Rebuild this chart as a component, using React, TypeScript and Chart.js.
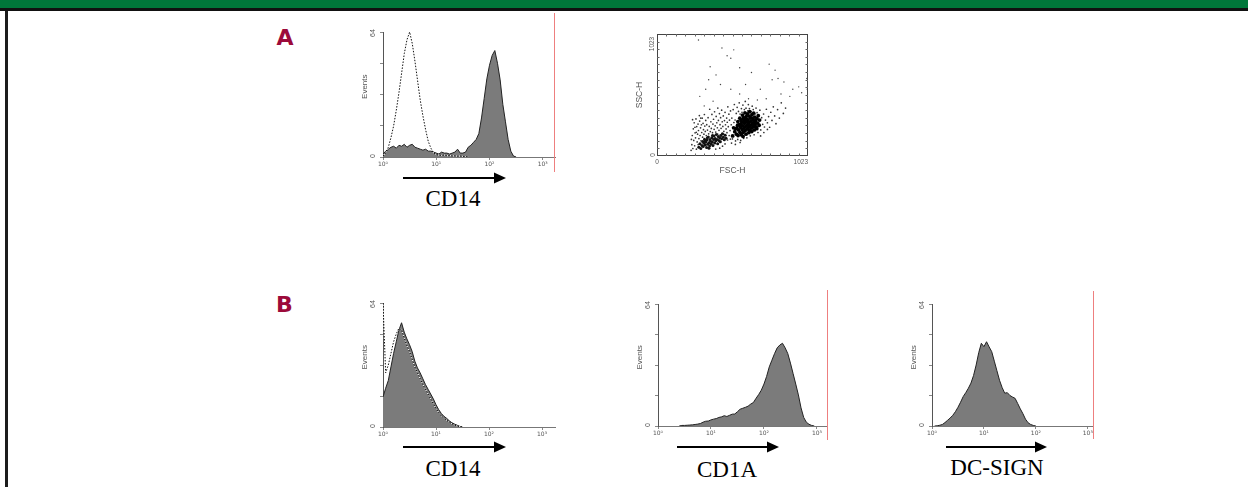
import React, { useEffect, useRef } from "react";
import { Chart, registerables } from "chart.js";
Chart.register(...registerables);

// ---------- DATA ----------
const decades = [
  0, 0.05, 0.1, 0.15, 0.2, 0.25, 0.3, 0.35, 0.4, 0.45, 0.5, 0.55, 0.6, 0.65, 0.7, 0.75,
  0.8, 0.85, 0.9, 0.95, 1.0, 1.05, 1.1, 1.15, 1.2, 1.25, 1.3, 1.35, 1.4, 1.45, 1.5, 1.55,
  1.6, 1.65, 1.7, 1.75, 1.8, 1.85, 1.9, 1.95, 2.0, 2.05, 2.1, 2.15, 2.2, 2.25, 2.3, 2.35,
  2.4, 2.45, 2.5, 2.55, 2.6, 2.65, 2.7, 2.75, 2.8, 2.85, 2.9, 2.95, 3.0, 3.05, 3.1, 3.15,
  3.2, 3.25,
];
const decadeTicks = [0, 1, 2, 3];
const decadeLabels = ["10⁰", "10¹", "10²", "10³"];
const eventTicks = [0, 16, 32, 48, 64];

const N = null;
// A: CD14 stained (filled) and isotype (dotted)
const a1Stained = [
  1.5, 3, 4, 5, 5.5, 4.5, 6, 5.5, 6.5, 5, 6, 6.5, 5, 4.5, 4, 3.5,
  4, 3, 3, 2.5, 2, 1.5, 2.5, 2, 2, 1.5, 2, 2.5, 4, 2, 2, 2.5,
  5, 6, 7.5, 9, 12, 20, 30, 40, 47, 52, 54.5, 48, 39.5, 27, 18, 9,
  3, 0.5, 0, N, N, N, N, N, N, N, N, N, N, N, N, N, N, N,
];
const a1Isotype = [
  0.5, 2, 5, 10, 16, 24, 33, 43, 53, 60, 64, 58, 49, 39, 29, 21,
  14, 8, 4.5, 2, 1.2, 1, 0.8, 1, 0.6, 0.8, 0.5, 0.6, 0.4, 0.5, 0.3, 0.2,
  0, N, N, N, N, N, N, N, N, N, N, N, N, N, N, N,
  N, N, N, N, N, N, N, N, N, N, N, N, N, N, N, N, N, N,
];
// B: CD14 stained and isotype
const b1Stained = [
  15.5, 20, 24, 31, 38, 44, 50, 53.8, 49, 45.5, 42.5, 39, 34, 30.5, 28, 25,
  22, 19.5, 17, 14.5, 11.5, 9, 7, 5.5, 4.5, 3.2, 2.2, 1.5, 0.9, 0.3, 0, N,
  N, N, N, N, N, N, N, N, N, N, N, N, N, N, N, N,
  N, N, N, N, N, N, N, N, N, N, N, N, N, N, N, N, N, N,
];
const b1Isotype = [
  64, 28, 32, 38, 44, 48, 51, 50, 46, 42, 39, 35, 31, 28, 25, 22,
  19.5, 17, 14.5, 12, 9.5, 7.5, 5.8, 4.5, 3.5, 2.5, 1.7, 1, 0.5, 0.2, 0, N,
  N, N, N, N, N, N, N, N, N, N, N, N, N, N, N, N,
  N, N, N, N, N, N, N, N, N, N, N, N, N, N, N, N, N, N,
];
// B: CD1A
const b2Stained = [
  N, N, N, N, N, N, N, N, 0, 0.3, 0.3, 0.4, 0.5, 0.6, 0.8, 1,
  1.3, 2, 2.5, 2.6, 3.2, 3.6, 3.9, 4.5, 4.8, 5.4, 5.0, 5.6, 6.2, 6.3, 7.5, 8.8,
  9.3, 9.8, 10.4, 11.5, 12.3, 14.5, 16.5, 18.8, 22, 26, 31, 34.5, 38, 41, 42.5, 43.4,
  41, 38, 33, 27.5, 22, 16.3, 9.5, 4.5, 2, 0.9, 0.3, 0, N, N, N, N, N, N,
];
// B: DC-SIGN
const b3Stained = [
  N, 0, 0.1, 0.4, 0.8, 1.8, 3, 4.2, 5.6, 7.5, 9.8, 12.5, 15.4, 17.5, 19.8, 22.5,
  26.5, 32, 38.5, 43.4, 41.6, 44.2, 41.5, 39, 34, 29, 24, 20.2, 17.2, 17.5, 16, 15.2,
  14.5, 11.8, 9, 6.5, 3.6, 1.7, 0.8, 0.3, 0, N, N, N, N, N, N, N,
  N, N, N, N, N, N, N, N, N, N, N, N, N, N, N, N, N, N,
];

// Scatter FSC-H / SSC-H
const scatterCore = [
  [512, 168], [527, 204], [538, 183], [541, 236], [549, 171], [553, 219], [558, 262], [562, 197], [566, 241], [571, 178],
  [574, 286], [577, 222], [581, 253], [584, 199], [588, 307], [591, 236], [593, 274], [597, 212], [601, 249], [604, 331],
  [607, 288], [611, 226], [614, 263], [617, 302], [621, 241], [624, 279], [627, 214], [631, 318], [634, 257], [637, 292],
  [641, 233], [644, 347], [647, 271], [651, 305], [654, 248], [658, 284], [662, 326], [665, 262], [669, 298], [673, 241],
  [677, 315], [682, 276], [686, 338], [546, 258], [533, 228], [519, 236], [561, 317], [579, 343], [596, 362], [612, 352],
  [628, 371], [583, 164], [603, 183], [622, 196], [642, 205], [659, 219], [676, 229], [692, 258], [695, 301], [548, 289],
  [569, 302], [586, 321], [570, 268], [589, 286], [606, 308], [625, 335], [640, 320], [618, 283], [600, 292], [655, 360],
];
const scatterCluster = [
  [283, 74], [291, 102], [297, 63], [304, 88], [309, 121], [313, 79], [318, 106], [322, 141], [327, 93], [331, 117],
  [336, 71], [339, 134], [344, 98], [348, 159], [352, 112], [356, 84], [359, 139], [363, 124], [367, 101], [371, 153],
  [375, 117], [379, 88], [383, 138], [386, 168], [391, 110], [394, 146], [398, 127], [402, 181], [407, 139], [411, 103],
  [415, 163], [419, 131], [424, 152], [429, 119], [433, 171], [438, 144], [443, 186], [449, 158], [456, 137], [462, 174],
  [468, 149], [341, 152], [325, 128], [376, 172], [352, 66],
];
const scatterHaze = [
  [231, 48], [236, 95], [239, 172], [243, 63], [246, 228], [249, 131], [252, 279], [255, 86], [258, 194], [261, 152],
  [264, 311], [267, 57], [269, 247], [272, 118], [275, 183], [278, 268], [281, 214], [284, 146], [287, 339], [289, 293],
  [292, 172], [295, 236], [298, 128], [301, 262], [303, 197], [306, 317], [309, 158], [312, 274], [315, 221], [318, 183],
  [321, 348], [324, 251], [327, 206], [330, 298], [233, 139], [241, 305], [257, 241], [266, 199], [279, 96], [296, 318],
  [334, 172], [337, 263], [342, 217], [346, 321], [350, 186], [354, 248], [357, 392], [361, 205], [365, 287], [368, 231],
  [372, 349], [376, 196], [379, 268], [383, 308], [387, 224], [390, 371], [394, 253], [398, 201], [401, 332], [405, 279],
  [409, 237], [412, 402], [416, 298], [420, 215], [423, 356], [427, 263], [431, 321], [434, 232], [438, 384], [442, 287],
  [446, 248], [449, 336], [453, 207], [457, 297], [461, 366], [464, 262], [468, 227], [472, 318], [476, 283], [480, 412],
  [483, 246], [487, 351], [491, 301], [495, 213], [498, 378], [452, 183], [428, 176], [474, 196], [489, 172], [411, 183],
  [503, 262], [507, 318], [511, 143], [516, 389], [521, 281], [524, 432], [529, 302], [532, 126], [537, 357], [543, 408],
  [547, 139], [552, 374], [557, 446], [563, 352], [567, 131], [572, 398], [576, 367], [582, 427], [587, 148], [592, 389],
  [598, 458], [603, 401], [609, 152], [615, 378], [619, 431], [626, 398], [632, 169], [638, 372], [645, 418], [652, 389],
  [658, 178], [664, 353], [671, 402], [678, 363], [684, 197], [691, 338], [697, 384], [703, 219], [709, 321], [716, 266],
  [722, 352], [728, 243], [735, 301], [741, 392], [748, 279], [756, 331], [763, 241], [771, 367], [779, 298], [788, 412],
  [797, 336], [806, 271], [817, 389], [829, 318], [842, 446], [856, 357], [871, 402], [702, 168], [724, 197], [748, 223],
  [505, 108], [531, 97], [563, 113], [497, 142], [519, 164], [478, 134], [461, 101], [444, 82], [425, 66], [398, 58],
];
const scatterSparse = [
  [281, 973], [360, 749], [440, 905], [475, 840], [520, 890], [500, 820], [560, 740], [640, 700], [760, 770], [800, 720],
  [820, 650], [780, 640], [860, 620], [900, 500], [920, 560], [960, 580], [980, 530], [330, 560], [290, 500], [350, 640],
  [400, 680], [430, 600], [600, 600], [700, 560], [740, 480], [680, 470], [560, 520], [500, 560], [380, 460], [320, 420],
  [620, 480], [840, 520], [1015, 650], [1018, 560],
  [290, 1020], [330, 1021], [360, 1019], [400, 1022], [430, 1020], [460, 1021], [300, 1018], [380, 1020], [520, 1020],
];

// ---------- HELPERS ----------
function rotText(ctx: CanvasRenderingContext2D, text: string, x: number, y: number, font: string) {
  ctx.save();
  ctx.translate(x, y);
  ctx.rotate(-Math.PI / 2);
  ctx.font = font;
  ctx.textAlign = "center";
  ctx.textBaseline = "middle";
  ctx.fillText(text, 0, 0);
  ctx.restore();
}

const histLabels = {
  id: "histLabels",
  afterDraw(chart: any) {
    const { ctx } = chart;
    const y = chart.scales.y;
    const ax = y.right;
    ctx.save();
    ctx.fillStyle = "#555";
    rotText(ctx, "Events", ax - 18, y.getPixelForValue(36), "8px Arial");
    rotText(ctx, "64", ax - 10, y.getPixelForValue(64) + 1, "7px Arial");
    rotText(ctx, "0", ax - 10, y.getPixelForValue(0) - 1, "7px Arial");
    ctx.restore();
  },
};

type HistProps = {
  left: number; top: number; width: number; height: number;
  xMax: number; xAxisH: number; stained: (number | null)[]; isotype?: (number | null)[];
};

function Histogram(p: HistProps) {
  const ref = useRef<HTMLCanvasElement>(null);
  useEffect(() => {
    const toPts = (vals: (number | null)[]) => decades.map((d, i) => ({ x: d, y: vals[i] }));
    const datasets: any[] = [];
    if (p.isotype) {
      datasets.push({ data: toPts(p.isotype), borderColor: "#111", borderWidth: 1, borderDash: [1.5, 1.5], fill: false, pointRadius: 0, tension: 0 });
      datasets.push({ data: toPts(p.isotype), borderColor: "#fff", borderWidth: 1, borderDash: [1.5, 1.5], borderDashOffset: 1.5, fill: false, pointRadius: 0, tension: 0 });
    }
    datasets.push({ data: toPts(p.stained), borderColor: "#222", borderWidth: 1, backgroundColor: "#7b7b7b", fill: "origin", pointRadius: 0, tension: 0 });
    const chart = new Chart(ref.current as HTMLCanvasElement, {
      type: "line",
      data: { datasets },
      options: {
        animation: false,
        responsive: false,
        devicePixelRatio: 1,
        events: [],
        layout: { padding: { top: 10, right: 5, left: 0, bottom: 0 } },
        plugins: { legend: { display: false }, tooltip: { enabled: false } },
        scales: {
          x: {
            type: "linear", min: 0, max: p.xMax,
            afterBuildTicks: (s: any) => { s.ticks = decadeTicks.map((v) => ({ value: v })); },
            afterFit: (s: any) => { s.height = p.xAxisH; },
            ticks: {
              callback: (_v: any, i: number) => decadeLabels[i] ?? "",
              font: { family: "'DejaVu Sans'", size: 6 }, color: "#555", padding: 1, maxRotation: 0, autoSkip: false,
            },
            grid: { display: true, drawOnChartArea: false, drawTicks: true, tickLength: 3, color: "#888" },
            border: { display: true, color: "#777", width: 1 },
          },
          y: {
            type: "linear", min: 0, max: 64,
            afterBuildTicks: (s: any) => { s.ticks = eventTicks.map((v) => ({ value: v })); },
            afterFit: (s: any) => { s.width = 28; },
            ticks: { display: false },
            grid: { display: true, drawOnChartArea: false, drawTicks: true, tickLength: 3, color: "#888" },
            border: { display: true, color: "#555", width: 1 },
          },
        },
      } as any,
      plugins: [histLabels],
    });
    return () => chart.destroy();
  }, []);
  return (
    <canvas ref={ref} width={p.width} height={p.height}
      style={{ position: "absolute", left: p.left, top: p.top, width: p.width, height: p.height }} />
  );
}

const scatterDeco = {
  id: "scatterDeco",
  afterDraw(chart: any) {
    const { ctx, chartArea: a } = chart;
    ctx.save();
    ctx.strokeStyle = "#444";
    ctx.lineWidth = 1;
    ctx.strokeRect(a.left + 0.5, a.top + 0.5, a.right - a.left - 1, a.bottom - a.top - 1);
    const xs = chart.scales.x, ys = chart.scales.y;
    ctx.strokeStyle = "#666";
    ctx.beginPath();
    for (let v = 64; v < 1023; v += 64) {
      const px = Math.round(xs.getPixelForValue(v)) + 0.5;
      ctx.moveTo(px, a.bottom); ctx.lineTo(px, a.bottom - 2.5);
      ctx.moveTo(px, a.top); ctx.lineTo(px, a.top + 2.5);
      const py = Math.round(ys.getPixelForValue(v)) + 0.5;
      ctx.moveTo(a.left, py); ctx.lineTo(a.left + 2.5, py);
      ctx.moveTo(a.right, py); ctx.lineTo(a.right - 2.5, py);
    }
    ctx.stroke();
    ctx.fillStyle = "#555";
    rotText(ctx, "1023", a.left - 5, ys.getPixelForValue(1023) + 10, "6.5px Arial");
    rotText(ctx, "0", a.left - 4, ys.getPixelForValue(0) - 1, "6.5px Arial");
    rotText(ctx, "SSC-H", a.left - 17, (a.top + a.bottom) / 2, "8.5px Arial");
    ctx.font = "6.5px Arial";
    ctx.textBaseline = "middle";
    ctx.textAlign = "center";
    ctx.fillText("0", xs.getPixelForValue(0), a.bottom + 6);
    ctx.textAlign = "right";
    ctx.fillText("1023", xs.getPixelForValue(1023), a.bottom + 6.5);
    ctx.textAlign = "center";
    ctx.font = "8.5px Arial";
    ctx.fillText("FSC-H", (a.left + a.right) / 2, a.bottom + 15);
    ctx.restore();
  },
};

function Scatter() {
  const ref = useRef<HTMLCanvasElement>(null);
  useEffect(() => {
    const pts = (arr: number[][]) => arr.map(([x, y]) => ({ x, y }));
    const mk = (arr: number[][], r: number, c: string) => ({
      data: pts(arr), pointRadius: r, backgroundColor: c, borderWidth: 0, pointHoverRadius: r,
    });
    const chart = new Chart(ref.current as HTMLCanvasElement, {
      type: "scatter",
      data: {
        datasets: [
          mk(scatterCore, 1.9, "#000"),
          mk(scatterCluster, 1.5, "#111"),
          mk(scatterHaze, 0.85, "#333"),
          mk(scatterSparse, 0.7, "#444"),
        ],
      },
      options: {
        animation: false,
        responsive: false,
        devicePixelRatio: 1,
        events: [],
        layout: { padding: { top: 9, right: 12, left: 0, bottom: 0 } },
        plugins: { legend: { display: false }, tooltip: { enabled: false } },
        scales: {
          x: {
            type: "linear", min: 0, max: 1023,
            afterFit: (s: any) => { s.height = 29; },
            ticks: { display: false }, grid: { display: false }, border: { display: false },
          },
          y: {
            type: "linear", min: 0, max: 1023,
            afterFit: (s: any) => { s.width = 37; },
            ticks: { display: false }, grid: { display: false }, border: { display: false },
          },
        },
      } as any,
      plugins: [scatterDeco],
    });
    return () => chart.destroy();
  }, []);
  return (
    <canvas ref={ref} width={200} height={160}
      style={{ position: "absolute", left: 620, top: 25, width: 200, height: 160 }} />
  );
}

const labelStyle = (x: number, y: number): React.CSSProperties => ({
  position: "absolute", left: x, top: y, transform: "translate(-50%, -50%)",
  fontFamily: "'Liberation Serif', 'Times New Roman', serif", fontSize: 23, lineHeight: 1, color: "#000", whiteSpace: "nowrap",
});
const letterStyle = (x: number, y: number): React.CSSProperties => ({
  position: "absolute", left: x, top: y, transform: "translate(-50%, -50%)",
  fontFamily: "'DejaVu Sans', sans-serif", fontWeight: 700, fontSize: 22, lineHeight: 1, color: "#9c0a3a",
});

function Arrow({ x1, x2, y }: { x1: number; x2: number; y: number }) {
  const hx = x2 - 12;
  return (
    <g>
      <line x1={x1} y1={y} x2={hx + 1} y2={y} stroke="#000" strokeWidth={2} />
      <polygon points={`${hx},${y - 5.5} ${x2},${y} ${hx},${y + 5.5}`} fill="#000" />
    </g>
  );
}

const redLine = "#ee7f7f";

export default function App() {
  return (
    <div style={{ position: "absolute", left: 0, top: 0, width: 1248, height: 487, background: "#fff", overflow: "hidden" }}>
      <div style={{ position: "absolute", left: 0, top: 0, width: 1248, height: 8, background: "#00773a" }} />
      <div style={{ position: "absolute", left: 0, top: 8, width: 1248, height: 3, background: "#111" }} />
      <div style={{ position: "absolute", left: 5, top: 11, width: 3, height: 476, background: "#1c1c1c" }} />

      <div style={letterStyle(285, 38)}>A</div>
      <div style={letterStyle(284.5, 305)}>B</div>

      <Histogram left={355} top={22} width={205} height={150} xMax={3.23} xAxisH={15} stained={a1Stained} isotype={a1Isotype} />
      <Scatter />
      <Histogram left={355} top={293} width={205} height={150} xMax={3.245} xAxisH={16} stained={b1Stained} isotype={b1Isotype} />
      <Histogram left={630} top={294} width={202} height={148} xMax={3.19} xAxisH={16} stained={b2Stained} />
      <Histogram left={904} top={294} width={194} height={148} xMax={3.1} xAxisH={16} stained={b3Stained} />

      <svg width={1248} height={487} style={{ position: "absolute", left: 0, top: 0, pointerEvents: "none", zIndex: 5 }}>
        <line x1={554.5} y1={13} x2={554.5} y2={172} stroke={redLine} strokeWidth={1} />
        <line x1={827.5} y1={290} x2={827.5} y2={440} stroke={redLine} strokeWidth={1} />
        <line x1={1093.5} y1={291} x2={1093.5} y2={439} stroke={redLine} strokeWidth={1} />
        <Arrow x1={403} x2={506} y={178} />
        <Arrow x1={403} x2={506} y={447} />
        <Arrow x1={677} x2={779} y={447} />
        <Arrow x1={946} x2={1047} y={447} />
      </svg>

      <div style={labelStyle(453, 198)}>CD14</div>
      <div style={labelStyle(453, 467.5)}>CD14</div>
      <div style={labelStyle(727, 469)}>CD1A</div>
      <div style={labelStyle(997, 467)}>DC-SIGN</div>
    </div>
  );
}
